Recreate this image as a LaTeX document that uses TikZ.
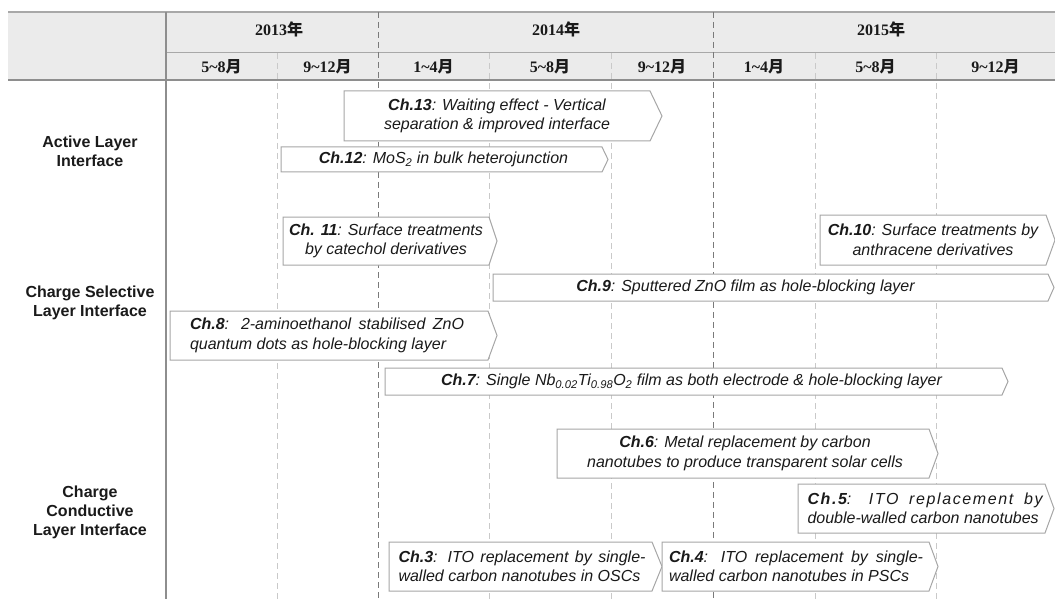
\documentclass[tikz,border=0pt]{standalone}
\usepackage{fontspec}
\setmainfont{Liberation Serif}
\setsansfont{Liberation Sans}
\newfontfamily\cjk{Noto Sans CJK SC}
\newfontfamily\spacedsans[LetterSpace=10]{Liberation Sans}
\usetikzlibrary{calc}
\definecolor{hdrfill}{HTML}{EBEBEB}
\definecolor{hdrline}{HTML}{A8A8A8}
\definecolor{hdrbot}{HTML}{8E8E8E}
\definecolor{yearline}{HTML}{7A7A7A}
\definecolor{monthline}{HTML}{C9C9C9}
\definecolor{boxgray}{HTML}{A6A6A6}
\definecolor{textdark}{HTML}{1A1A1A}
\newcommand\yr[1]{\textbf{#1{\cjk\bfseries 年}}}
\newcommand\mo[1]{\textbf{#1{\cjk\bfseries 月}}}
\newcommand\tl{\textasciitilde}
\newcommand\chbox[8]{%
  \draw[boxline] (#2,#4) -- ({#3-#6},#4) -- (#3,{(#4+#5)/2}) -- ({#3-#6},#5) -- (#2,#5) -- cycle;
  \node[boxtext] (#1) at ({(#2+#3-#6)/2+#7},{(#4+#5)/2}) {#8};}
\tikzset{
  boxline/.style={draw=boxgray, line width=1pt, fill=white, line join=miter},
  boxtext/.style={font=\sffamily\itshape\fontsize{16}{19.5}\selectfont, text=textdark, inner sep=0pt, align=center},
  boxtextl/.style={boxtext, align=left},
  hdrtext/.style={font=\rmfamily\fontsize{16}{18}\selectfont, text=textdark, inner sep=0pt},
  rowlabel/.style={font=\sffamily\bfseries\fontsize{16}{19}\selectfont, text=textdark, align=center, inner sep=0pt},
  yeardash/.style={draw=yearline, line width=1pt, dash pattern=on 6pt off 4pt},
  monthdash/.style={draw=monthline, line width=1pt, dash pattern=on 6pt off 4pt},
}
\begin{document}
\begin{tikzpicture}[x=1pt, y=-1pt]
\useasboundingbox (0,0) rectangle (1055,599);
\fill[white] (0,0) rectangle (1055,599);
% header
\fill[hdrfill] (8,12) rectangle (1055,80);
\draw[hdrline, line width=1.2pt] (8,12) -- (1055,12);
\draw[hdrline, line width=1pt] (166,53) -- (1055,53);
% grid lines
\foreach \x in {277,489,611,815,936} \draw[monthdash] (\x,53) -- (\x,599);
\foreach \x in {378,713} \draw[yeardash] (\x,12) -- (\x,599);
\draw[hdrbot, line width=2pt] (8,80) -- (1055,80);
\draw[hdrbot, line width=1.5pt] (166,12) -- (166,599);
% header text
\node[hdrtext] (y13) at (279,29) {\yr{2013}};
\node[hdrtext] (y14) at (556,29) {\yr{2014}};
\node[hdrtext] (y15) at (881,29) {\yr{2015}};
\node[hdrtext] (m1) at (221.5,67) {\mo{5\tl 8}};
\node[hdrtext] (m2) at (327.5,67) {\mo{9\tl 12}};
\node[hdrtext] (m3) at (433.5,67) {\mo{1\tl 4}};
\node[hdrtext] (m4) at (550,67) {\mo{5\tl 8}};
\node[hdrtext] (m5) at (662,67) {\mo{9\tl 12}};
\node[hdrtext] (m6) at (764,67) {\mo{1\tl 4}};
\node[hdrtext] (m7) at (875.5,67) {\mo{5\tl 8}};
\node[hdrtext] (m8) at (995.5,67) {\mo{9\tl 12}};
% row labels
\node[rowlabel] (r1) at (90,151) {Active Layer\\Interface};
\node[rowlabel] (r2) at (90,303) {Charge Selective\\Layer Interface};
\node[rowlabel] (r3) at (90,512) {Charge\\Conductive\\Layer Interface};
% boxes
\chbox{c13}{344}{662}{91}{141}{12}{0}{\textbf{Ch.13}: Waiting effect - Vertical\\separation \& improved interface}
\chbox{c12}{281}{608}{147}{172}{6}{2}{\textbf{Ch.12}: MoS\textsubscript{2} in bulk heterojunction}
\chbox{c11}{283}{497}{217}{265}{8}{0}{\textbf{Ch. 11}: Surface treatments\\by catechol derivatives}
\chbox{c10}{820}{1055}{215}{265}{9}{0}{\textbf{Ch.10}: Surface treatments by\\anthracene derivatives}
\chbox{c9}{493}{1054}{274}{301}{6}{-25}{\textbf{Ch.9}: Sputtered ZnO film as hole-blocking layer}
\chbox{c7}{385}{1008}{368}{395}{6}{-2}{\textbf{Ch.7}: Single Nb\textsubscript{0.02}Ti\textsubscript{0.98}O\textsubscript{2} film as both electrode \& hole-blocking layer}
\chbox{c6}{557}{938}{429}{478}{9}{2}{\textbf{Ch.6}: Metal replacement by carbon\\nanotubes to produce transparent solar cells}
\draw[boxline] (170,311) -- (488,311) -- (497,335.5) -- (488,360) -- (170,360) -- cycle;
\node[boxtextl] (c8) at (327,335.5) {\makebox[274pt][s]{\textbf{Ch.8}: 2-aminoethanol stabilised ZnO}\\quantum dots as hole-blocking layer};
\draw[boxline] (798,484) -- (1045,484) -- (1054,508.5) -- (1045,533) -- (798,533) -- cycle;
\node[boxtextl] (c5) at (925,508.5) {\makebox[235pt][s]{\spacedsans\itshape\textbf{Ch.5}: ITO replacement by}\\double-walled carbon nanotubes};
\draw[boxline] (389,542) -- (652,542) -- (662,566.5) -- (652,591) -- (389,591) -- cycle;
\node[boxtextl] (c3) at (522,566.5) {\makebox[247pt][s]{\textbf{Ch.3}: ITO replacement by single-}\\walled carbon nanotubes in OSCs};
\draw[boxline] (662,542) -- (929,542) -- (938,566.5) -- (929,591) -- (662,591) -- cycle;
\node[boxtextl] (c4) at (796,566.5) {\makebox[254pt][s]{\textbf{Ch.4}: ITO replacement by single-}\\walled carbon nanotubes in PSCs};
\end{tikzpicture}
\end{document}
